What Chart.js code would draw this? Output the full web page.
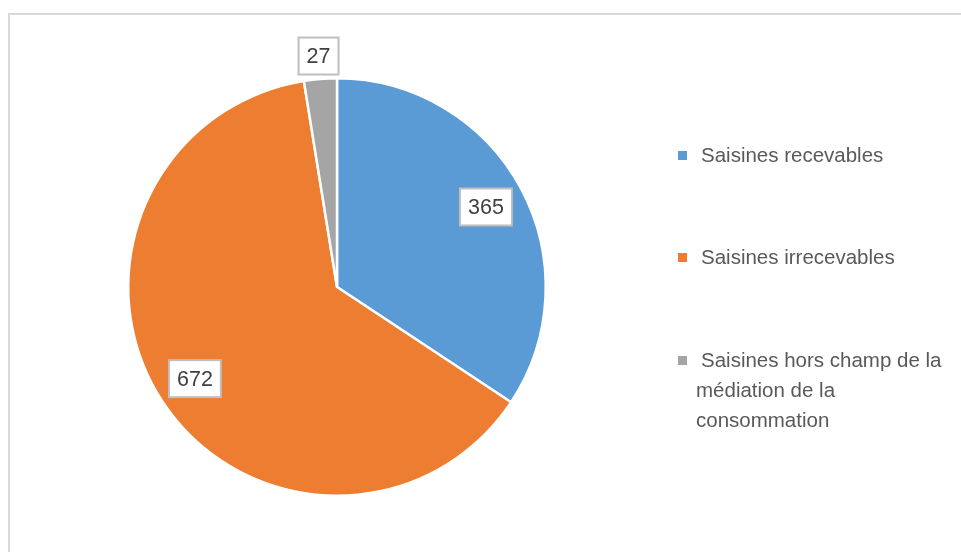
<!DOCTYPE html>
<html>
<head>
<meta charset="utf-8">
<script src="https://cdn.jsdelivr.net/npm/chart.js@4/dist/chart.umd.min.js"></script>
<style>
  html, body { margin: 0; padding: 0; background: #fff; }
  #wrap { position: relative; width: 961px; height: 552px; overflow: hidden; }
  #frame { position: absolute; left: 8px; top: 13px; width: 960px; height: 600px; border: 2px solid #d9d9d9; box-sizing: border-box; }
  #myPieChart { position: absolute; left: 0; top: 0; }
  #legend { position: absolute; left: 678px; top: 0; width: 276px; font-family: "Liberation Sans", Arial, sans-serif; font-size: 20.5px; color: #595959; }
  .item { position: absolute; left: 0; width: 276px; line-height: 30px; padding-left: 18px; text-indent: 5px; box-sizing: border-box; }
  .item .sq { position: absolute; left: 0; top: 11px; width: 9px; height: 9px; }
</style>
</head>
<body>
<div id="wrap">
  <div id="frame"></div>
  <canvas id="myPieChart" width="961" height="552"></canvas>
  <div id="legend"></div>
</div>
<script>
const categories = ['Saisines recevables', 'Saisines irrecevables', 'Saisines hors champ de la médiation de la consommation'];
const values = [365, 672, 27];
const colors = ['#5B9BD5', '#ED7D31', '#A5A5A5'];

// where each value box sits, as a fraction of the radius
const labelRadius = [0.81, 0.81, 1.11];
const legendTops = [140, 242, 345];

// Value boxes drawn over/around the slices
const valueBoxes = {
    id: 'valueBoxes',
    afterDatasetsDraw(chart) {
        const ctx = chart.ctx;
        const meta = chart.getDatasetMeta(0);
        ctx.save();
        ctx.font = '21.5px "Liberation Sans", Arial, sans-serif';
        ctx.textAlign = 'center';
        ctx.textBaseline = 'middle';
        meta.data.forEach((arc, i) => {
            const mid = (arc.startAngle + arc.endAngle) / 2;
            const r = arc.outerRadius * labelRadius[i];
            const x = arc.x + Math.cos(mid) * r;
            const y = arc.y + Math.sin(mid) * r;
            const txt = String(values[i]);
            const w = ctx.measureText(txt).width + 16;
            const h = 37;
            ctx.fillStyle = '#fff';
            ctx.fillRect(x - w / 2, y - h / 2, w, h);
            ctx.strokeStyle = '#bfbfbf';
            ctx.lineWidth = 2;
            ctx.strokeRect(x - w / 2, y - h / 2, w, h);
            ctx.fillStyle = '#404040';
            ctx.fillText(txt, x, y + 1);
        });
        ctx.restore();
    }
};

const ctx = document.getElementById('myPieChart').getContext('2d');
const myPieChart = new Chart(ctx, {
    type: 'pie',
    data: {
        labels: categories,
        datasets: [{
            data: values,
            backgroundColor: colors,
            borderColor: '#ffffff',
            borderWidth: 2.5,
            hoverOffset: 0
        }]
    },
    options: {
        responsive: false,
        animation: false,
        layout: { padding: { left: 127, right: 414, top: 77, bottom: 55 } },
        plugins: {
            legend: { display: false },
            tooltip: { enabled: false }
        }
    },
    plugins: [valueBoxes]
});

// HTML legend built from the same arrays
const legend = document.getElementById('legend');
categories.forEach((c, i) => {
    const d = document.createElement('div');
    d.className = 'item';
    d.style.top = legendTops[i] + 'px';
    d.innerHTML = '<span class="sq" style="background:' + colors[i] + '"></span>' + c;
    legend.appendChild(d);
});
</script>
</body>
</html>
